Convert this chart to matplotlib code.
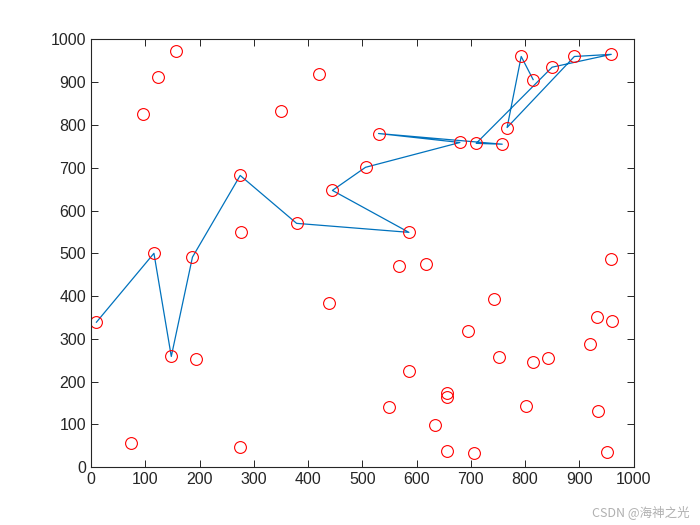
import matplotlib
matplotlib.use('Agg')
import matplotlib.pyplot as plt

# all 50 city coordinates
city_x = [10, 116, 148, 187, 275, 379, 586, 445, 506, 680,
          530, 710, 758, 767, 793, 815, 850, 891, 959,
          157, 124, 96, 420, 351, 277,
          438, 194, 74, 275,
          567, 617, 959, 743, 932, 961, 695, 919, 752, 815,
          843, 586, 656, 656, 549, 802, 935, 634, 656, 706, 952]
city_y = [339, 500, 259, 491, 682, 570, 549, 647, 701, 759,
          780, 757, 755, 794, 960, 906, 935, 960, 965,
          972, 913, 825, 918, 832, 549,
          383, 252, 56, 47,
          470, 474, 486, 393, 350, 341, 318, 287, 257, 245,
          255, 224, 173, 164, 140, 143, 131, 98, 37, 33, 35]

# order of the cities along the drawn route (indexes into the lists above)
route = [0, 1, 2, 3, 4, 5, 6, 7, 8, 9, 10, 12, 11, 16, 18, 17, 13, 14, 15]

route_x = [city_x[i] for i in route]
route_y = [city_y[i] for i in route]

plt.rcParams['font.family'] = ['Liberation Sans', 'DejaVu Sans']

fig = plt.figure(figsize=(7, 5.25), dpi=100)
ax = fig.add_axes([0.13, 0.11, 0.775, 0.815])

ax.plot(route_x, route_y, color='#0072BD', linewidth=0.9)
ax.plot(city_x, city_y, 'o', markerfacecolor='none', markeredgecolor='red',
        markersize=8.5, markeredgewidth=0.8)

ax.set_xlim(0, 1000)
ax.set_ylim(0, 1000)
ax.set_xticks(range(0, 1001, 100))
ax.set_yticks(range(0, 1001, 100))
ax.tick_params(direction='in', top=True, right=True, labelsize=11.5,
               colors='#262626', length=5, width=0.7)
for spine in ax.spines.values():
    spine.set_color('#262626')
    spine.set_linewidth(0.8)

fig.text(0.985, 0.012, 'CSDN @海神之光', ha='right', va='bottom', fontsize=9,
         color='#b0b0b0', family=['Noto Sans CJK SC', 'DejaVu Sans'])

fig.savefig('out.png', dpi=100)
